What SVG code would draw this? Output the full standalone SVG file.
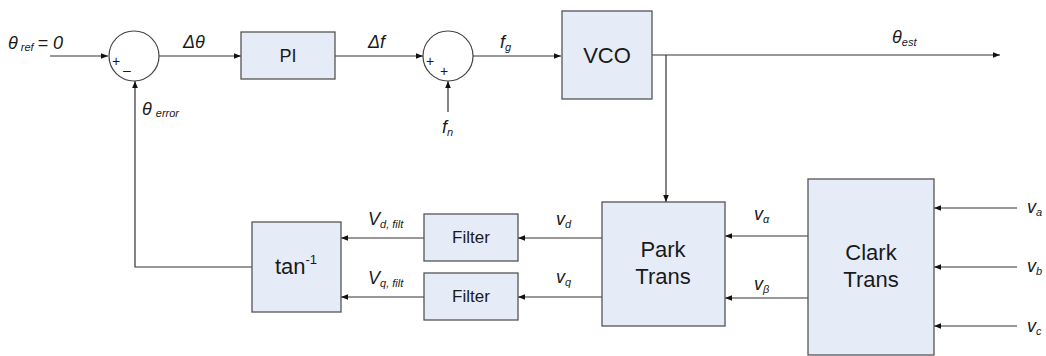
<svg xmlns="http://www.w3.org/2000/svg" width="1046" height="356" viewBox="0 0 1046 356">
<defs>
<marker id="arr" viewBox="0 0 10 10" refX="10" refY="5" markerWidth="7" markerHeight="7" markerUnits="userSpaceOnUse" orient="auto">
<path d="M0,1 L10,5 L0,9 z" fill="#111"/>
</marker>
<style>
.box{fill:#e6ecf7;stroke:#555;stroke-width:1.3}
.sum{fill:#fff;stroke:#444;stroke-width:1.2}
.ln{fill:none;stroke:#333;stroke-width:1.2}
.a{marker-end:url(#arr)}
.t{font-family:"Liberation Sans",Arial,sans-serif;fill:#1a1a1a;text-anchor:middle}
.lb{font-family:"Liberation Sans",Arial,sans-serif;fill:#1a1a1a;font-style:italic;font-size:18px}
.sb{font-size:11px}
.pm{font-family:"Liberation Sans",Arial,sans-serif;fill:#1a1a1a;font-size:14px}
</style>
</defs>
<rect width="1046" height="356" fill="#fff"/>
<g id="connectors">
<path class="ln a" d="M50,56 H108"/>
<path class="ln a" d="M159,56 H241"/>
<path class="ln a" d="M335,56 H423"/>
<path class="ln a" d="M473,56 H561"/>
<path class="ln a" d="M652,55 H1000"/>
<path class="ln a" d="M666,55 V202"/>
<path class="ln a" d="M448,112 V81"/>
<path class="ln a" d="M252,267 H135 V81"/>
<path class="ln a" d="M808,236 H725"/>
<path class="ln a" d="M808,298 H725"/>
<path class="ln a" d="M602,238 H518"/>
<path class="ln a" d="M602,297 H518"/>
<path class="ln a" d="M424,238 H341"/>
<path class="ln a" d="M424,297 H341"/>
<path class="ln a" d="M1017,208 H934"/>
<path class="ln a" d="M1017,267 H934"/>
<path class="ln a" d="M1017,326 H934"/>
</g>
<g id="sum1">
<circle class="sum" cx="134" cy="56" r="25"/>
<text class="pm" x="112" y="66">+</text>
<text class="pm" x="123" y="75">–</text>
</g>
<g id="sum2">
<circle class="sum" cx="448" cy="56" r="25"/>
<text class="pm" x="426" y="66">+</text>
<text class="pm" x="440" y="76">+</text>
</g>
<g id="pi"><rect class="box" x="241" y="32" width="94" height="47"/><text class="t" x="288" y="62" font-size="18">PI</text></g>
<g id="vco"><rect class="box" x="562" y="11" width="90" height="88"/><text class="t" x="607" y="63" font-size="22">VCO</text></g>
<g id="park"><rect class="box" x="602" y="202" width="123" height="124"/><text class="t" x="663" y="257" font-size="22">Park</text><text class="t" x="663" y="284" font-size="22">Trans</text></g>
<g id="clark"><rect class="box" x="808" y="179" width="126" height="176"/><text class="t" x="871" y="260" font-size="22">Clark</text><text class="t" x="871" y="287" font-size="22">Trans</text></g>
<g id="filter1"><rect class="box" x="424" y="214" width="94" height="47"/><text class="t" x="471" y="243" font-size="17">Filter</text></g>
<g id="filter2"><rect class="box" x="424" y="273" width="94" height="47"/><text class="t" x="471" y="302" font-size="17">Filter</text></g>
<g id="atan"><rect class="box" x="252" y="222" width="89" height="90"/><text class="t" x="296" y="274" font-size="22">tan<tspan font-size="13" dy="-10">-1</tspan></text></g>
<g id="labels">
<text class="lb" x="8" y="49">θ<tspan class="sb" dx="3" dy="2">ref</tspan><tspan dx="4" dy="-2">= 0</tspan></text>
<text class="lb" x="183" y="48" font-style="normal">Δ<tspan font-style="italic">θ</tspan></text>
<text class="lb" x="368" y="48" font-style="normal">Δ<tspan font-style="italic">f</tspan></text>
<text class="lb" x="500" y="48">f<tspan class="sb" dy="3">g</tspan></text>
<text class="lb" x="892" y="43">θ<tspan class="sb" dy="3">est</tspan></text>
<text class="lb" x="142" y="115">θ<tspan class="sb" dx="4" dy="2">error</tspan></text>
<text class="lb" x="442" y="133">f<tspan class="sb" dy="3">n</tspan></text>
<text class="lb" x="368" y="225">V<tspan class="sb" dy="3">d, filt</tspan></text>
<text class="lb" x="368" y="284">V<tspan class="sb" dy="3">q, filt</tspan></text>
<text class="lb" x="556" y="225">v<tspan class="sb" dy="3">d</tspan></text>
<text class="lb" x="556" y="283">v<tspan class="sb" dy="3">q</tspan></text>
<text class="lb" x="754" y="220">v<tspan class="sb" dy="3">α</tspan></text>
<text class="lb" x="754" y="290">v<tspan class="sb" dy="3">β</tspan></text>
<text class="lb" x="1027" y="213">v<tspan class="sb" dy="3">a</tspan></text>
<text class="lb" x="1027" y="272">v<tspan class="sb" dy="3">b</tspan></text>
<text class="lb" x="1027" y="332">v<tspan class="sb" dy="3">c</tspan></text>
</g>
</svg>
